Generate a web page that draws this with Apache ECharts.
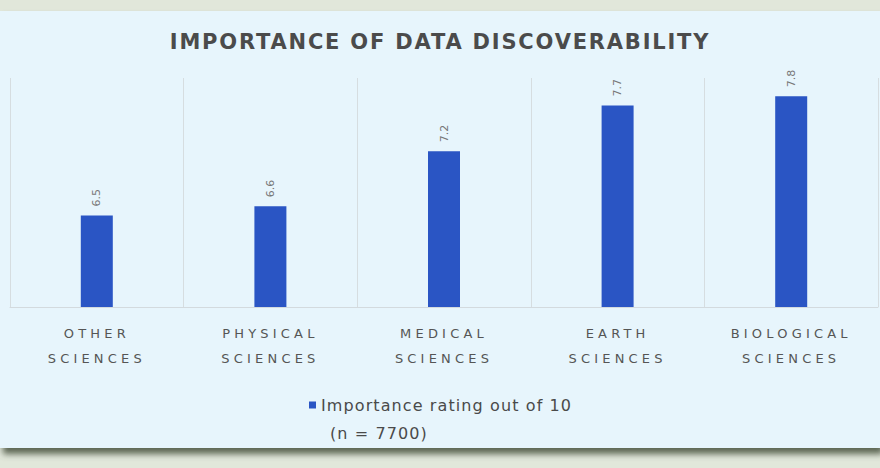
<!DOCTYPE html>
<html><head><meta charset="utf-8">
<script src="https://cdn.jsdelivr.net/npm/echarts@6/dist/echarts.min.js"></script>
<style>html,body{margin:0;padding:0;background:#e1e7da;}#c{width:880px;height:468px;}</style>
</head><body><div id="c"></div>
<script>
const categories = ['OTHER\nSCIENCES', 'PHYSICAL\nSCIENCES', 'MEDICAL\nSCIENCES', 'EARTH\nSCIENCES', 'BIOLOGICAL\nSCIENCES'];
const values = [6.5, 6.6, 7.2, 7.7, 7.8];
const seriesName = 'Importance rating out of 10\n(n = 7700)';
const titleText = 'IMPORTANCE OF DATA DISCOVERABILITY';

const nameLines = seriesName.split('\n');
const chart = echarts.init(document.getElementById('c'), null, {renderer: 'svg'});
chart.setOption({
  backgroundColor: 'transparent',
  animation: false,
  graphic: [{
    type: 'rect', z: -10, silent: true,
    shape: {x: 0, y: 11, width: 880, height: 437},
    style: {fill: '#e7f5fc', shadowBlur: 6, shadowColor: 'rgba(80,88,70,0.9)', shadowOffsetY: 6, shadowOffsetX: 3}
  }, {
    type: 'text', left: 330, top: 425, silent: true,
    style: {text: nameLines[1], fontFamily: 'DejaVu Sans', fontSize: 16, fill: '#4a4a4a'}
  }],
  title: {
    text: titleText, left: 'center', top: 26,
    textStyle: {fontFamily: 'DejaVu Sans', fontSize: 21, fontWeight: 'bold', color: '#4b4b4b'}
  },
  legend: {
    left: 304, top: 392, itemWidth: 7, itemHeight: 7, itemGap: 12,
    icon: 'rect',
    formatter: n => n.split('\n')[0],
    textStyle: {fontFamily: 'DejaVu Sans', fontSize: 16, color: '#4a4a4a'},
    data: [seriesName]
  },
  grid: {left: 10, right: 2, top: 78, bottom: 161},
  xAxis: {
    type: 'category', data: categories,
    axisLine: {show: true, lineStyle: {color: '#d3dade', width: 1}},
    axisTick: {show: false},
    splitLine: {show: true, lineStyle: {color: '#d6dde0', width: 1}},
    axisLabel: {fontFamily: 'DejaVu Sans', fontSize: 13, color: '#555', lineHeight: 25, margin: 14}
  },
  yAxis: {type: 'value', min: 5.5, max: 8, show: false, splitLine: {show: false}},
  series: [{
    name: seriesName, type: 'bar', data: values, barWidth: 32,
    itemStyle: {color: '#2a55c4'},
    label: {
      show: true, position: 'top', rotate: 90, align: 'left', verticalAlign: 'middle', distance: 9,
      fontFamily: 'DejaVu Sans', fontSize: 11, color: '#777',
      formatter: p => p.value.toFixed(1)
    }
  }]
});
function spacing() {
  document.querySelectorAll('#c text').forEach(t => {
    const s = t.textContent;
    if (s === titleText) t.style.letterSpacing = '1.8px';
    else if (/^[A-Z]+$/.test(s)) t.style.letterSpacing = '4.2px';
    else if (s === nameLines[0] || s === nameLines[1]) t.style.letterSpacing = '1.1px';
  });
}
spacing();
chart.on('finished', spacing);
</script></body></html>
